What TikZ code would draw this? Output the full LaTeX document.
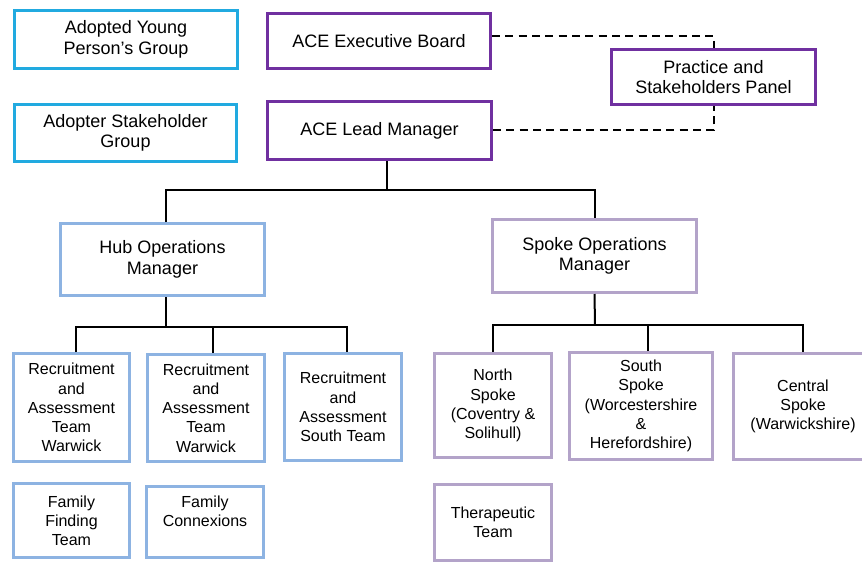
\documentclass[tikz,border=0pt]{standalone}
\usepackage{fontspec}
\setmainfont{Liberation Sans}
\usepackage{tikz}
\usetikzlibrary{positioning}
\definecolor{groupblue}{RGB}{33,170,224}
\definecolor{acepurple}{RGB}{112,48,160}
\definecolor{hubblue}{RGB}{141,179,226}
\definecolor{spokelilac}{RGB}{179,163,201}

\begin{document}
\begin{tikzpicture}[x=0.75pt,y=0.75pt,yscale=-1,xscale=1,
  wh/.style 2 args={minimum width=#1*0.75pt,minimum height=#2*0.75pt},
  unit/.style={draw,rectangle,line width=2.25pt,inner sep=0pt,align=center,
    font=\fontsize{13.5}{15.5}\selectfont},
  team/.style={unit,font=\fontsize{12}{14.4}\selectfont},
  link/.style={line width=1.5pt},
  dashlink/.style={line width=1.5pt,dash pattern=on 6pt off 4pt}]
\useasboundingbox (0,0) rectangle (862,563);

%Shape: Rectangle [groups, left column]
\node[unit,draw=groupblue,wh={223}{58}] (ayp) at (126,39.5) {Adopted Young\\Person’s Group};
\node[unit,draw=groupblue,wh={222}{57}] (asg) at (125.5,133) {Adopter Stakeholder\\Group};

%Shape: Rectangle [ACE boxes]
\node[unit,draw=acepurple,wh={223}{55}] (exec) at (379,41) {ACE Executive Board};
\node[unit,draw=acepurple,wh={224}{58}] (lead) at (379.5,130.5) {ACE Lead Manager};
\node[unit,draw=acepurple,wh={204}{55}] (panel) at (713.5,77) {Practice and\\Stakeholders Panel};

%Shape: Rectangle [operations managers]
\node[unit,draw=hubblue,wh={204}{72}] (hub) at (162.5,259.5) {Hub Operations\\Manager};
\node[unit,draw=spokelilac,wh={204}{73}] (spoke) at (594.5,256) {Spoke Operations\\Manager};

%Shape: Rectangle [hub teams]
\node[team,draw=hubblue,wh={116}{108}] (raw1) at (71.5,407.5) {Recruitment\\and\\Assessment\\Team\\Warwick};
\node[team,draw=hubblue,wh={117}{107}] (raw2) at (206,408) {Recruitment\\and\\Assessment\\Team\\Warwick};
\node[team,draw=hubblue,wh={117}{107}] (ras) at (343,407) {Recruitment\\and\\Assessment\\South Team};
\node[team,draw=hubblue,wh={116}{74}] (fft) at (71.5,520.5) {Family\\Finding\\Team};
\node[team,draw=hubblue,wh={117}{71}] (fcx) at (205,522) {Family\\Connexions\\[2pt]};

%Shape: Rectangle [spoke teams]
\node[team,draw=spokelilac,wh={117}{104}] (north) at (493,405.5) {North\\Spoke\\(Coventry \&\\Solihull)};
\node[team,draw=spokelilac,wh={143}{107}] (south) at (641,406) {South\\Spoke\\(Worcestershire\\\&\\Herefordshire)};
\node[team,draw=spokelilac,wh={139}{106}] (central) at (803,406.5) {Central\\Spoke\\(Warwickshire)};
\node[team,draw=spokelilac,wh={117}{76}] (ther) at (493,522.5) {Therapeutic\\Team};

%Straight Lines [dashed links to panel]
\draw[dashlink] ([yshift=-4]exec.east) -| (panel.north);
\draw[dashlink] (lead.east) -| (panel.south);

%Straight Lines [tree]
\coordinate (top) at (387,190);
\coordinate (hubj) at (166,327);
\coordinate (spokej) at (595,325);
\draw[link] (lead.south -| top) -- (top);
\draw[link] (hub.north -| hubj) |- (top) -| (spoke.north);
\draw[link] (hub.south -| hubj) -- (hubj);
\draw[link] ([xshift=3pt]raw1.north) |- (hubj) -| ([xshift=3pt]ras.north);
\draw[link] ([xshift=5pt]raw2.north) -- ([xshift=5pt]raw2.north |- hubj);
\draw[link] (spoke.south) -- (spokej);
\draw[link] (north.north) |- (spokej) -| (central.north);
\draw[link] ([xshift=5pt]south.north) -- ([xshift=5pt]south.north |- spokej);

\end{tikzpicture}
\end{document}
